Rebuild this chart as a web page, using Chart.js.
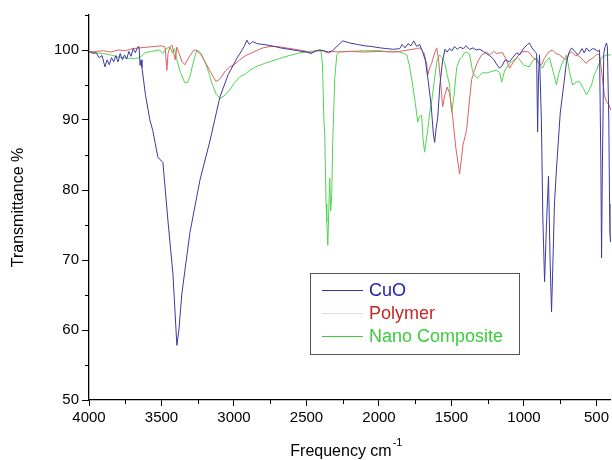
<!DOCTYPE html>
<html>
<head>
<meta charset="utf-8">
<script src="https://cdn.jsdelivr.net/npm/chart.js@4.4.1/dist/chart.umd.min.js"></script>
<style>
  body { margin: 0; background: #fff; }
  canvas { display: block; }
</style>
</head>
<body>
<canvas id="ftirChart" width="612" height="460"></canvas>
<script>
// FTIR spectra (wavenumber cm-1, transmittance %)
const cuoWave = [4000, 3970, 3950, 3930, 3910, 3890, 3875, 3860, 3845, 3830, 3815, 3800, 3785, 3770, 3755, 3740, 3725, 3710, 3695, 3680, 3665, 3655, 3648, 3640, 3635, 3610, 3580, 3560, 3525, 3490, 3456, 3421, 3394, 3380, 3359, 3304, 3235, 3166, 3097, 3040, 2980, 2930, 2911, 2895, 2870, 2840, 2800, 2740, 2680, 2620, 2560, 2500, 2470, 2440, 2408, 2380, 2350, 2320, 2291, 2250, 2200, 2150, 2100, 2050, 1990, 1947, 1900, 1857, 1840, 1820, 1800, 1780, 1760, 1740, 1720, 1700, 1680, 1660, 1640, 1625, 1616, 1605, 1595, 1580, 1561, 1545, 1530, 1513, 1495, 1480, 1460, 1444, 1420, 1400, 1375, 1350, 1330, 1306, 1280, 1260, 1237, 1210, 1190, 1168, 1150, 1130, 1099, 1079, 1050, 1030, 1000, 975, 962, 945, 925, 913, 906, 900, 893, 880, 870, 858, 845, 831, 820, 810, 800, 790, 776, 750, 720, 707, 690, 672, 650, 630, 617, 600, 585, 569, 550, 527, 510, 490, 479, 470, 465, 460, 450, 440, 431, 425, 415, 408, 403, 400];
const cuoT = [99.8, 99.5, 99.6, 98.9, 99.2, 97.6, 98.6, 97.9, 98.9, 98.3, 99.2, 98.3, 99.5, 98.6, 99.3, 98.7, 99.8, 99.1, 100.2, 99.6, 100.4, 100.5, 97.8, 98.6, 97.5, 93.5, 90, 88.5, 84.7, 83.9, 75.7, 68, 57.8, 60, 65.3, 73.9, 81.4, 87, 93.3, 96.5, 98.8, 100.5, 101.4, 100.8, 101.2, 100.9, 100.8, 100.6, 100.3, 100.1, 99.9, 99.7, 99.5, 99.8, 100, 99.9, 99.7, 99.9, 100.5, 101.3, 101, 100.8, 100.6, 100.5, 100.3, 100.2, 100.1, 100.2, 100.8, 100.3, 100.9, 100.6, 101.3, 100.5, 100.8, 99.8, 98.5, 95.5, 92, 88, 86.8, 89, 90.3, 95, 98.5, 100.1, 99.7, 100.2, 99.9, 100.5, 100.1, 100.4, 100.2, 100.6, 100.1, 100.3, 100, 100.1, 99.8, 99.5, 99.2, 98.7, 98, 97.4, 97.8, 98.6, 98.3, 98.9, 99.6, 99.3, 100.3, 100.8, 101, 100.3, 99.8, 99.5, 88.3, 96, 99.3, 90, 76, 66.9, 75, 82, 70, 62.6, 70, 78, 83, 91, 96, 98.3, 99.6, 100.3, 99.8, 99.3, 99.6, 100.2, 99.6, 100.3, 99.8, 100.2, 100.1, 99.8, 100, 84, 70.3, 82, 99.5, 100.5, 101, 100.5, 90, 74, 72.6, 78];

const polyWave = [4000, 3950, 3900, 3850, 3800, 3750, 3700, 3650, 3600, 3550, 3500, 3475, 3463, 3455, 3440, 3428, 3415, 3405, 3394, 3380, 3360, 3339, 3310, 3280, 3263, 3230, 3200, 3160, 3125, 3100, 3060, 3029, 3000, 2960, 2920, 2856, 2800, 2753, 2700, 2640, 2580, 2520, 2480, 2464, 2440, 2408, 2380, 2350, 2320, 2271, 2200, 2100, 2000, 1900, 1857, 1800, 1740, 1719, 1690, 1671, 1664, 1650, 1637, 1616, 1602, 1590, 1575, 1561, 1547, 1530, 1513, 1492, 1470, 1444, 1420, 1396, 1375, 1361, 1340, 1320, 1292, 1258, 1237, 1210, 1189, 1168, 1147, 1120, 1099, 1075, 1051, 1020, 982, 962, 941, 913, 893, 879, 860, 844, 825, 803, 780, 755, 730, 707, 690, 672, 650, 617, 590, 569, 550, 527, 500, 479, 465, 445, 431, 415, 400];
const polyT = [99.7, 99.8, 99.9, 99.7, 100, 99.9, 100.2, 100.3, 100.4, 100.5, 100.6, 100.4, 97.1, 99.5, 100.5, 100.7, 99.5, 98.6, 100.4, 99.6, 98.4, 97.9, 99, 99.9, 100, 99.4, 98.3, 96.8, 95.5, 95.8, 97, 97.6, 97.9, 98.6, 99.2, 99.8, 100.3, 100.5, 100.5, 100.3, 100.1, 99.9, 99.7, 99.6, 99.9, 100, 99.8, 99.6, 99.8, 99.7, 99.8, 99.7, 99.8, 99.7, 99.8, 100, 100.2, 100.3, 99.6, 98, 96.4, 97.5, 98.1, 99.6, 100.3, 98.8, 95.5, 91.9, 93.5, 94.7, 93.8, 90.5, 86, 82.3, 86.5, 88.5, 93, 95.8, 97.2, 98.3, 99.3, 99.7, 99.3, 99.8, 99.5, 99.6, 99.6, 98.5, 97.4, 98.2, 98.9, 99.7, 99.8, 99.6, 99, 98.5, 98, 97.9, 98.8, 99.3, 99.8, 100, 99.5, 99.3, 98.9, 98.6, 99.5, 99.7, 99.3, 99.1, 98.5, 98.1, 98.6, 98.8, 99.4, 99.3, 97, 93.5, 92.6, 92.2, 91.4];

const nanoWave = [4000, 3950, 3900, 3850, 3800, 3760, 3720, 3680, 3650, 3614, 3570, 3511, 3490, 3470, 3442, 3425, 3410, 3394, 3370, 3339, 3320, 3304, 3280, 3256, 3230, 3201, 3170, 3153, 3125, 3097, 3070, 3029, 3000, 2960, 2920, 2891, 2850, 2787, 2740, 2684, 2620, 2546, 2477, 2420, 2400, 2390, 2380, 2374, 2365, 2360, 2353, 2345, 2340, 2333, 2326, 2319, 2305, 2291, 2270, 2200, 2100, 2000, 1947, 1900, 1857, 1830, 1809, 1790, 1768, 1750, 1733, 1720, 1706, 1695, 1685, 1675, 1664, 1650, 1637, 1616, 1600, 1582, 1565, 1547, 1530, 1513, 1499, 1485, 1464, 1444, 1430, 1410, 1396, 1375, 1354, 1340, 1320, 1300, 1280, 1258, 1230, 1189, 1168, 1154, 1147, 1134, 1110, 1086, 1060, 1044, 1030, 1000, 962, 940, 913, 890, 872, 850, 824, 800, 776, 762, 741, 707, 686, 665, 640, 617, 590, 569, 550, 534, 515, 500, 480, 465, 431, 400];
const nanoT = [99.7, 99.6, 99.5, 99.3, 99, 98.9, 98.8, 98.8, 98.9, 99.6, 99.8, 100, 99.5, 100.2, 100.4, 99.6, 100.2, 98.6, 96.8, 95.3, 95.4, 96.2, 98.3, 100, 99.6, 98.4, 96.5, 95.3, 93.8, 93.1, 93.4, 94.3, 95.2, 96.2, 96.6, 97.1, 97.6, 98.1, 98.4, 98.8, 99.2, 99.6, 99.8, 99.9, 99.8, 98, 90, 87.9, 78, 75.4, 72.1, 78, 81.7, 77, 79.3, 87, 96, 99.3, 99.8, 99.8, 99.9, 99.9, 99.8, 99.8, 99.7, 99.5, 99.3, 97.8, 95, 92.5, 89.7, 90.5, 90.7, 87, 85.4, 87, 88.5, 91.1, 92.6, 96, 98.5, 99.3, 98.9, 98.2, 96.5, 95, 91.1, 93, 97.5, 98.7, 98.9, 99.6, 99.7, 99.4, 96.9, 96.3, 96, 96.5, 96.8, 96.7, 96.9, 97.1, 96.8, 95.4, 96, 97, 97.8, 98.3, 98.7, 98.9, 98.6, 97.8, 97.6, 98.5, 98.9, 97.8, 97.4, 98.4, 98.9, 97, 95, 96.5, 97.9, 99.3, 96.9, 95, 95.4, 95.5, 94.5, 93.6, 94.3, 95, 96.5, 97.1, 98.2, 98.9, 99.3, 99.3];

const seriesNames = ['CuO', 'Polymer', 'Nano Composite'];
const xTicks = [4000, 3500, 3000, 2500, 2000, 1500, 1000, 500];
const xMinorTicks = [3750, 3250, 2750, 2250, 1750, 1250, 750];
const yTicks = [50, 60, 70, 80, 90, 100];
const yMinorTicks = [55, 65, 75, 85, 95, 105];

const lineColors = ['#3a3aa0', '#e06060', '#50d450'];
const textColors = ['#1e1eaa', '#c42626', '#3ccc3c'];
const sampleColors = ['#34349c', '#efd6d6', '#3ccc3c'];

const toPoints = (xs, ys) => xs.map((x, i) => ({ x: x, y: ys[i] }));
const FONT = '"Liberation Sans", Arial, sans-serif';

// minor ticks, axis titles and the boxed legend
const extras = {
  id: 'extras',
  afterDraw(chart) {
    const ctx = chart.ctx;
    const area = chart.chartArea;
    const xs = chart.scales.x, ys = chart.scales.y;
    ctx.save();
    ctx.strokeStyle = '#000';
    ctx.lineWidth = 1;
    xMinorTicks.forEach(v => {
      const px = Math.round(xs.getPixelForValue(v)) + 0.5;
      ctx.beginPath(); ctx.moveTo(px, area.bottom); ctx.lineTo(px, area.bottom + 4); ctx.stroke();
    });
    yMinorTicks.forEach(v => {
      const py = Math.round(ys.getPixelForValue(v)) + 0.5;
      ctx.beginPath(); ctx.moveTo(area.left - 4, py); ctx.lineTo(area.left, py); ctx.stroke();
    });

    ctx.fillStyle = '#000';
    ctx.font = '16px ' + FONT;
    ctx.textBaseline = 'middle';
    ctx.textAlign = 'center';
    ctx.save();
    ctx.translate(19, (area.top + area.bottom) / 2);
    ctx.rotate(-Math.PI / 2);
    ctx.fillText('Transmittance %', 0, 0);
    ctx.restore();

    ctx.textAlign = 'left';
    ctx.textBaseline = 'alphabetic';
    const main = 'Frequency cm';
    const w = ctx.measureText(main).width;
    const x0 = 345 - w / 2 - 4;
    ctx.fillText(main, x0, 456);
    ctx.font = '11px ' + FONT;
    ctx.fillText('-1', x0 + w + 1, 446);

    // legend
    const bx = 310.5, by = 273.5, bw = 209, bh = 81;
    ctx.strokeStyle = '#555';
    ctx.strokeRect(bx, by, bw, bh);
    ctx.font = '18px ' + FONT;
    ctx.textBaseline = 'middle';
    seriesNames.forEach((name, i) => {
      const cy = 290 + i * 23;
      ctx.strokeStyle = sampleColors[i];
      ctx.beginPath(); ctx.moveTo(322, cy + 0.5); ctx.lineTo(363, cy + 0.5); ctx.stroke();
      ctx.fillStyle = textColors[i];
      ctx.fillText(name, 369, cy + 1);
    });
    ctx.restore();
  }
};

new Chart(document.getElementById('ftirChart').getContext('2d'), {
  type: 'line',
  data: {
    datasets: [
      { label: seriesNames[0], data: toPoints(cuoWave, cuoT), borderColor: lineColors[0] },
      { label: seriesNames[1], data: toPoints(polyWave, polyT), borderColor: lineColors[1] },
      { label: seriesNames[2], data: toPoints(nanoWave, nanoT), borderColor: lineColors[2] },
    ],
  },
  options: {
    responsive: false,
    animation: false,
    layout: { padding: { top: 15, right: 0, bottom: 0, left: 0 } },
    elements: {
      line: { borderWidth: 1, tension: 0 },
      point: { radius: 0 },
    },
    plugins: {
      legend: { display: false },
      tooltip: { enabled: false },
    },
    scales: {
      x: {
        type: 'linear',
        reverse: true,
        min: 400,
        max: 4000,
        afterBuildTicks: s => { s.ticks = xTicks.map(v => ({ value: v })); },
        afterFit: s => { s.height = 60; },
        grid: { drawOnChartArea: false, drawTicks: true, tickLength: 6, tickColor: '#000' },
        border: { color: '#000', width: 1.3 },
        ticks: { color: '#000', font: { family: FONT, size: 15 }, padding: 3, maxRotation: 0, autoSkip: false, callback: v => String(v) },
      },
      y: {
        min: 50,
        max: 105,
        afterBuildTicks: s => { s.ticks = yTicks.map(v => ({ value: v })); },
        afterFit: s => { s.width = 89; },
        grid: { drawOnChartArea: false, drawTicks: true, tickLength: 7, tickColor: '#000' },
        border: { color: '#000', width: 1.3 },
        ticks: { color: '#000', font: { family: FONT, size: 15 }, padding: 3, callback: v => String(v) },
      },
    },
  },
  plugins: [extras],
});
</script>
</body>
</html>
